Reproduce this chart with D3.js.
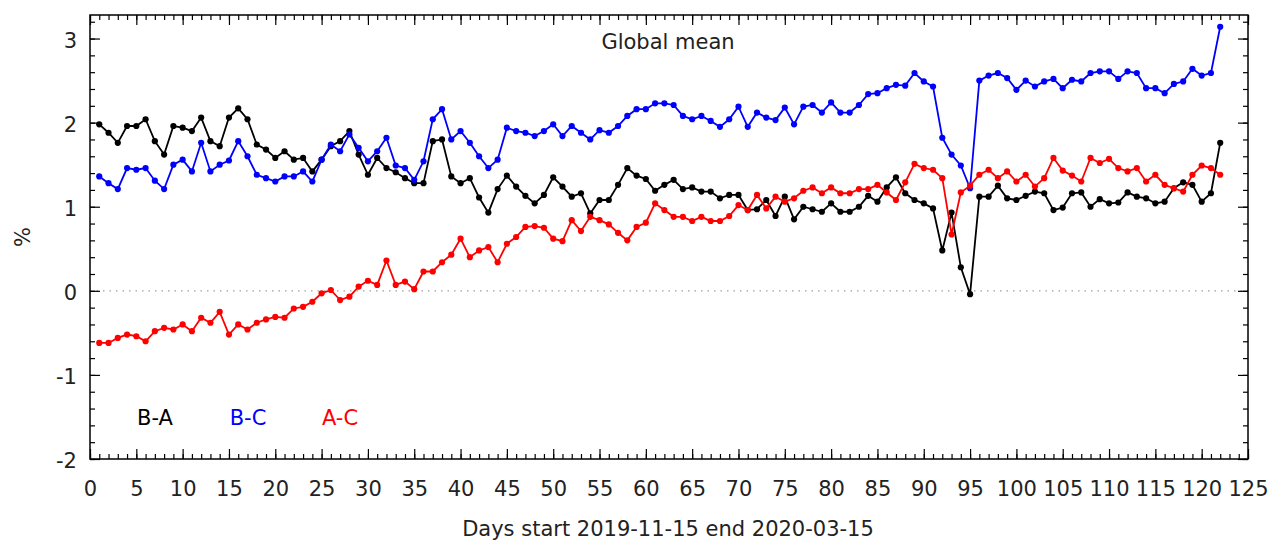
<!DOCTYPE html>
<html>
<head>
  <meta charset="utf-8">
  <title>Global mean</title>
  <script src="https://cdn.jsdelivr.net/npm/d3@7"></script>
  <style>
    body { margin: 0; background: #fff; }
    text { font-family: "DejaVu Sans", sans-serif; }
  </style>
</head>
<body>
  <div id="chart"></div>

  <script>
    // values, day 1 .. 122
    const seriesNames = ["B-A", "B-C", "A-C"]
    const seriesColors = ["#000000", "#0000ff", "#ff0000"]

    const BA = [1.98, 1.88, 1.76, 1.96, 1.96, 2.04, 1.78, 1.62, 1.96, 1.94,
      1.90, 2.06, 1.78, 1.72, 2.06, 2.17, 2.04, 1.74, 1.68, 1.58,
      1.66, 1.56, 1.58, 1.42, 1.56, 1.72, 1.78, 1.90, 1.62, 1.38,
      1.58, 1.46, 1.41, 1.34, 1.28, 1.28, 1.78, 1.80, 1.36, 1.28,
      1.34, 1.11, 0.93, 1.21, 1.37, 1.24, 1.13, 1.04, 1.14, 1.35,
      1.24, 1.12, 1.16, 0.92, 1.08, 1.08, 1.26, 1.46, 1.37, 1.33,
      1.19, 1.26, 1.32, 1.21, 1.23, 1.18, 1.18, 1.10, 1.14, 1.14,
      0.96, 0.97, 1.08, 0.89, 1.12, 0.85, 1.00, 0.97, 0.94, 1.04,
      0.94, 0.94, 1.00, 1.13, 1.06, 1.23, 1.35, 1.16, 1.08, 1.04,
      0.98, 0.48, 0.93, 0.28, -0.04, 1.12, 1.12, 1.25, 1.10, 1.08,
      1.13, 1.18, 1.16, 0.96, 0.99, 1.16, 1.17, 1.00, 1.09, 1.04,
      1.05, 1.17, 1.12, 1.10, 1.04, 1.06, 1.22, 1.29, 1.26, 1.06,
      1.16, 1.76]

    const BC = [1.36, 1.28, 1.21, 1.46, 1.44, 1.46, 1.31, 1.21, 1.50, 1.56,
      1.42, 1.76, 1.42, 1.50, 1.55, 1.78, 1.60, 1.38, 1.34, 1.30,
      1.36, 1.36, 1.42, 1.30, 1.56, 1.74, 1.66, 1.86, 1.70, 1.54,
      1.66, 1.82, 1.49, 1.46, 1.32, 1.54, 2.04, 2.16, 1.80, 1.90,
      1.76, 1.60, 1.46, 1.56, 1.94, 1.90, 1.88, 1.84, 1.90, 1.98,
      1.84, 1.96, 1.88, 1.80, 1.91, 1.88, 1.96, 2.08, 2.16, 2.16,
      2.23, 2.23, 2.21, 2.08, 2.04, 2.08, 2.02, 1.95, 2.04, 2.19,
      1.95, 2.12, 2.06, 2.03, 2.18, 1.98, 2.19, 2.21, 2.12, 2.24,
      2.12, 2.12, 2.21, 2.34, 2.35, 2.41, 2.45, 2.44, 2.59, 2.49,
      2.43, 1.82, 1.62, 1.49, 1.22, 2.50, 2.56, 2.59, 2.53, 2.39,
      2.50, 2.43, 2.49, 2.52, 2.41, 2.51, 2.49, 2.59, 2.61, 2.61,
      2.52, 2.61, 2.59, 2.41, 2.41, 2.35, 2.46, 2.49, 2.64, 2.56,
      2.59, 3.14]

    const AC = [-0.62, -0.62, -0.56, -0.52, -0.54, -0.60, -0.48, -0.44, -0.46, -0.40,
      -0.48, -0.32, -0.38, -0.25, -0.52, -0.40, -0.46, -0.38, -0.34, -0.31,
      -0.32, -0.21, -0.19, -0.13, -0.03, 0.01, -0.11, -0.07, 0.05, 0.12,
      0.07, 0.36, 0.07, 0.11, 0.02, 0.23, 0.23, 0.34, 0.43, 0.62,
      0.40, 0.48, 0.52, 0.34, 0.56, 0.64, 0.76, 0.77, 0.75, 0.62,
      0.59, 0.84, 0.71, 0.88, 0.84, 0.79, 0.69, 0.60, 0.76, 0.81,
      1.04, 0.96, 0.88, 0.88, 0.83, 0.88, 0.83, 0.83, 0.89, 1.02,
      0.96, 1.14, 0.98, 1.12, 1.06, 1.10, 1.19, 1.23, 1.16, 1.23,
      1.16, 1.16, 1.21, 1.21, 1.26, 1.17, 1.08, 1.29, 1.51, 1.46,
      1.44, 1.34, 0.67, 1.17, 1.25, 1.38, 1.44, 1.34, 1.42, 1.30,
      1.38, 1.24, 1.34, 1.58, 1.43, 1.37, 1.30, 1.58, 1.52, 1.57,
      1.46, 1.42, 1.46, 1.30, 1.38, 1.26, 1.22, 1.18, 1.38, 1.49,
      1.46, 1.38]

    const xTicks = [0, 5, 10, 15, 20, 25, 30, 35, 40, 45, 50, 55, 60, 65, 70, 75, 80, 85, 90, 95, 100, 105, 110, 115, 120, 125]
    const yTicks = [-2, -1, 0, 1, 2, 3]

    const width = 1273
    const height = 544
    const margin = {top: 15, right: 25, bottom: 85, left: 90}

    const svg = d3.select("#chart")
      .append("svg")
      .attr("width", width)
      .attr("height", height)

    const x = d3.scaleLinear().domain([0, 125]).range([margin.left, width - margin.right])
    const y = d3.scaleLinear().domain([-2, 3.28]).range([height - margin.bottom, margin.top])

    const x0 = x.range()[0], x1 = x.range()[1]
    const y0 = y.range()[0], y1 = y.range()[1]

    // zero line
    svg.append("line")
      .attr("x1", x0).attr("x2", x1)
      .attr("y1", y(0)).attr("y2", y(0))
      .attr("stroke", "#a0a0a0")
      .attr("stroke-width", 1.2)
      .attr("stroke-dasharray", "1.5,5")

    // ticks, all pointing inward
    const xMinor = d3.range(0, 126, 1)
    const yMinor = d3.range(-2, 3.21, 0.2)
    const plain = d => String(d)   // gnuplot uses a hyphen, not a unicode minus

    function noLabels(axis) { return axis.tickFormat("") }

    svg.append("g").attr("class", "ax").attr("transform", `translate(0,${y0})`)
      .call(noLabels(d3.axisBottom(x).tickValues(xMinor).tickSize(-5)))
    svg.append("g").attr("class", "ax").attr("transform", `translate(0,${y0})`)
      .call(d3.axisBottom(x).tickValues(xTicks).tickSize(-10).tickPadding(22).tickFormat(plain))
    svg.append("g").attr("class", "ax").attr("transform", `translate(0,${y1})`)
      .call(noLabels(d3.axisTop(x).tickValues(xMinor).tickSize(-5)))
    svg.append("g").attr("class", "ax").attr("transform", `translate(0,${y1})`)
      .call(noLabels(d3.axisTop(x).tickValues(xTicks).tickSize(-10)))

    svg.append("g").attr("class", "ax").attr("transform", `translate(${x0},0)`)
      .call(noLabels(d3.axisLeft(y).tickValues(yMinor).tickSize(-5)))
    svg.append("g").attr("class", "ax ylab").attr("transform", `translate(${x0},0)`)
      .call(d3.axisLeft(y).tickValues(yTicks).tickSize(-10).tickPadding(13).tickFormat(plain))
    svg.append("g").attr("class", "ax").attr("transform", `translate(${x1},0)`)
      .call(noLabels(d3.axisRight(y).tickValues(yMinor).tickSize(-5)))
    svg.append("g").attr("class", "ax").attr("transform", `translate(${x1},0)`)
      .call(noLabels(d3.axisRight(y).tickValues(yTicks).tickSize(-10)))

    svg.selectAll(".ax .domain").remove()
    svg.selectAll(".ax line").attr("stroke", "#000").attr("stroke-width", 1.2)
    svg.selectAll(".ax text")
      .attr("fill", "#222")
      .style("font-size", "21px")
      .style("font-family", "'DejaVu Sans', sans-serif")
    svg.selectAll(".ylab text").attr("dy", "0.42em")

    // frame
    svg.append("rect")
      .attr("x", x0).attr("y", y1)
      .attr("width", x1 - x0).attr("height", y0 - y1)
      .attr("fill", "none")
      .attr("stroke", "#000")
      .attr("stroke-width", 1.5)

    // series
    const allSeries = [BA, BC, AC]
    const line = d3.line()
      .x((d, i) => x(i + 1))
      .y(d => y(d))

    allSeries.forEach((values, k) => {
      const g = svg.append("g")
      g.append("path")
        .datum(values)
        .attr("d", line)
        .attr("fill", "none")
        .attr("stroke", seriesColors[k])
        .attr("stroke-width", 1.8)
      g.selectAll("circle")
        .data(values)
        .enter()
        .append("circle")
        .attr("cx", (d, i) => x(i + 1))
        .attr("cy", d => y(d))
        .attr("r", 3.1)
        .attr("fill", seriesColors[k])
    })

    // legend
    const legendX = [155, 248, 340]
    seriesNames.forEach((name, k) => {
      svg.append("text")
        .attr("x", legendX[k])
        .attr("y", 425)
        .attr("text-anchor", "middle")
        .attr("fill", seriesColors[k])
        .style("font-size", "21px")
        .text(name)
    })

    // titles
    svg.append("text")
      .attr("x", 668).attr("y", 49)
      .attr("text-anchor", "middle")
      .attr("fill", "#222")
      .style("font-size", "21px")
      .text("Global mean")

    svg.append("text")
      .attr("x", 668).attr("y", 536)
      .attr("text-anchor", "middle")
      .attr("fill", "#222")
      .style("font-size", "21px")
      .text("Days start 2019-11-15 end 2020-03-15")

    svg.append("text")
      .attr("transform", "translate(30,237) rotate(-90)")
      .attr("text-anchor", "middle")
      .attr("fill", "#222")
      .style("font-size", "21px")
      .text("%")
  </script>
</body>
</html>
